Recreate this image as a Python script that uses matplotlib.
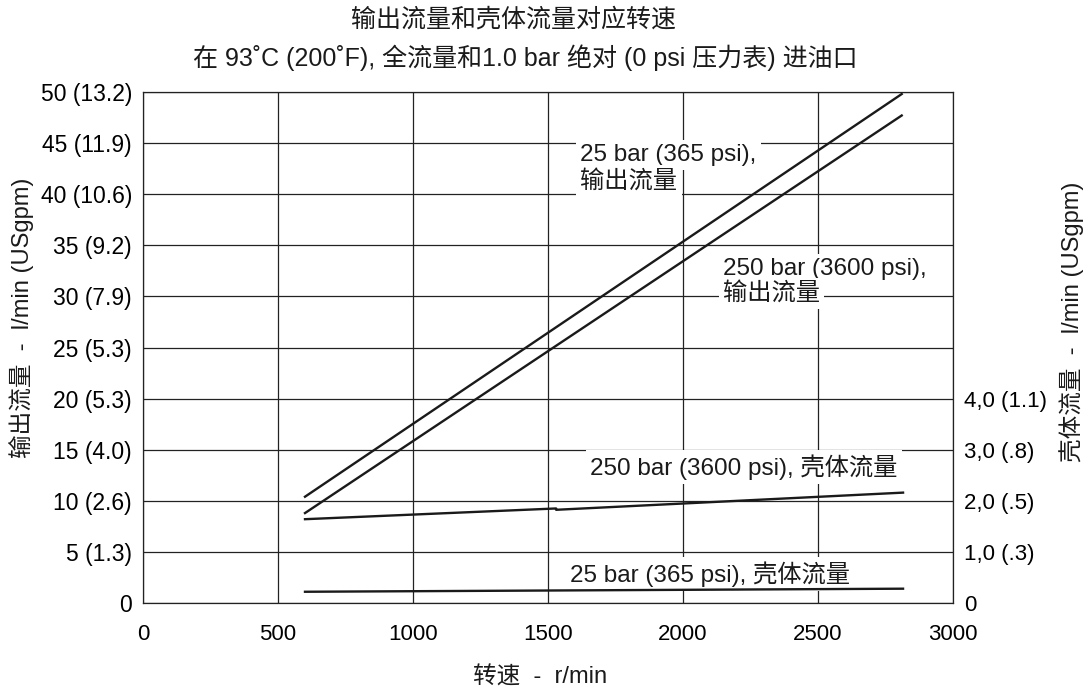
import matplotlib.pyplot as plt

plt.rcParams['font.family'] = ['Liberation Sans', 'Noto Sans CJK SC', 'DejaVu Sans']

# speed (r/min) and flows (l/min, left scale)
rpm = [600, 2810]
out_25bar = [10.4, 49.8]
out_250bar = [8.8, 47.7]
rpm_case_250 = [600, 1530, 1530, 2815]
case_250bar = [8.2, 9.25, 9.12, 10.8]
rpm_case_25 = [600, 2815]
case_25bar = [1.1, 1.4]

x_ticks = [0, 500, 1000, 1500, 2000, 2500, 3000]
y_ticks = [0, 5, 10, 15, 20, 25, 30, 35, 40, 45, 50]
y_labels = ['0', '5 (1.3)', '10 (2.6)', '15 (4.0)', '20 (5.3)', '25 (5.3)',
            '30 (7.9)', '35 (9.2)', '40 (10.6)', '45 (11.9)', '50 (13.2)']
right_ticks = [0, 5, 10, 15, 20]
right_labels = ['0', '1,0 (.3)', '2,0 (.5)', '3,0 (.8)', '4,0 (1.1)']

fig = plt.figure(figsize=(10.85, 6.91), dpi=100)
ax = fig.add_axes([143 / 1085, 88 / 691, 810 / 1085, 511 / 691])

ax.set_xlim(0, 3000)
ax.set_ylim(0, 50)
ax.set_xticks(x_ticks)
ax.set_xticklabels([str(t) for t in x_ticks], fontsize=16)
ax.set_yticks(y_ticks)
ax.set_yticklabels(y_labels, fontsize=16.5)
ax.tick_params(axis='y', length=0, pad=8)
ax.tick_params(axis='x', length=0, pad=15)
ax.grid(True, color='#222222', linewidth=0.9, zorder=0)
ax.set_axisbelow(True)
for s in ax.spines.values():
    s.set_color('#222222')
    s.set_linewidth(0.9)

ax2 = ax.twinx()
ax2.set_ylim(0, 50)
ax2.set_yticks(right_ticks)
ax2.set_yticklabels(right_labels, fontsize=16)
ax2.tick_params(length=0, pad=8)
for s in ax2.spines.values():
    s.set_visible(False)

lc = '#1a1a1a'
ax.plot(rpm, out_25bar, color=lc, lw=1.7, zorder=4)
ax.plot(rpm, out_250bar, color=lc, lw=1.7, zorder=4)
ax.plot(rpm_case_250, case_250bar, color=lc, lw=1.7, zorder=4)
ax.plot(rpm_case_25, case_25bar, color=lc, lw=1.7, zorder=4)

box = dict(facecolor='white', edgecolor='none', pad=3)
txt = dict(fontsize=17.5, color='#1a1a1a', ha='left', va='center', zorder=3, bbox=box)
ax.text(1620, 43.8, '25 bar (365 psi),', **txt)
ax.text(1620, 41.3, '输出流量', **txt)
ax.text(2148, 32.7, '250 bar (3600 psi),', **txt)
ax.text(2148, 30.3, '输出流量', **txt)
ax.text(1656, 13.3, '250 bar (3600 psi), 壳体流量', **txt)
ax.text(1581, 2.8, '25 bar (365 psi), 壳体流量', **txt)

fig.text(0.473, 0.972, '输出流量和壳体流量对应转速', fontsize=18,
         ha='center', va='center', color='#1a1a1a')
fig.text(0.484, 0.916, '在 93˚C (200˚F), 全流量和1.0 bar 绝对 (0 psi 压力表) 进油口',
         fontsize=18, ha='center', va='center', color='#1a1a1a')
fig.text(0.498, 0.02, '转速  -  r/min', fontsize=17,
         ha='center', va='center', color='#1a1a1a')
fig.text(0.02, 0.54, '输出流量  -  l/min (USgpm)', rotation=90, fontsize=17,
         ha='center', va='center', color='#1a1a1a')
fig.text(0.988, 0.534, '壳体流量  -  l/min (USgpm)', rotation=90, fontsize=17,
         ha='center', va='center', color='#1a1a1a')

fig.savefig('out.png', dpi=100)
